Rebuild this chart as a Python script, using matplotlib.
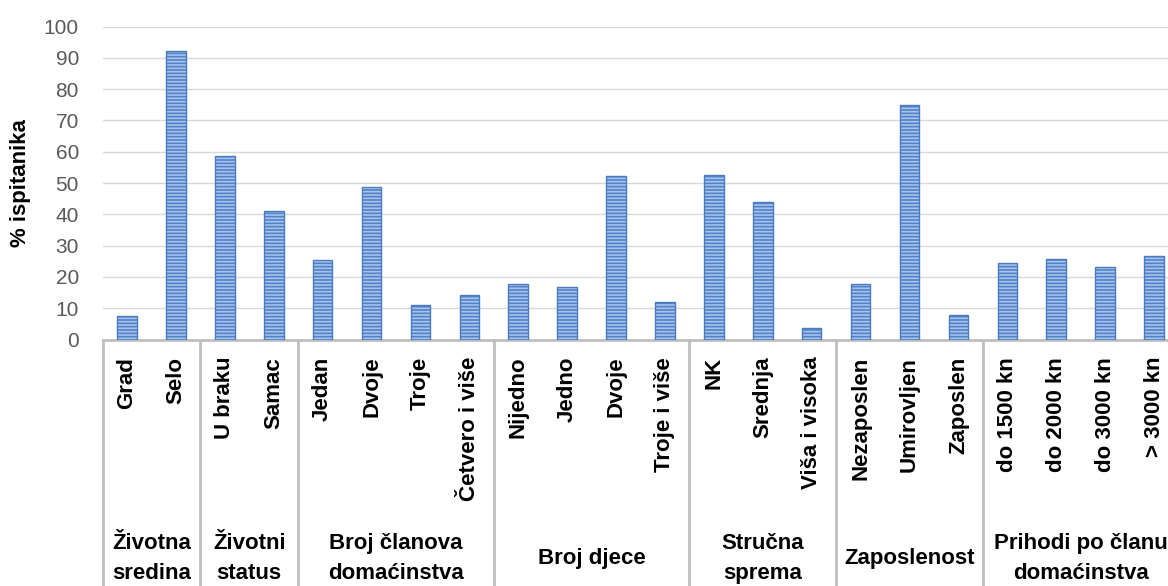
import numpy as np
import matplotlib.pyplot as plt

plt.rcParams['font.family'] = ['Liberation Sans', 'DejaVu Sans']

# categories and values (% of respondents)
labels = ['Grad', 'Selo', 'U braku', 'Samac', 'Jedan', 'Dvoje', 'Troje', 'Četvero i više',
          'Nijedno', 'Jedno', 'Dvoje', 'Troje i više', 'NK', 'Srednja', 'Viša i visoka',
          'Nezaposlen', 'Umirovljen', 'Zaposlen', 'do 1500 kn', 'do 2000 kn', 'do 3000 kn', '> 3000 kn']
values = [7.5, 92.2, 58.7, 41.1, 25.4, 48.7, 11.0, 14.3,
          17.8, 16.8, 52.3, 12.0, 52.5, 44.0, 3.7,
          17.9, 74.8, 7.8, 24.4, 25.7, 23.2, 26.7]
groups = ['Životna\nsredina', 'Životni\nstatus', 'Broj članova\ndomaćinstva', 'Broj djece',
          'Stručna\nsprema', 'Zaposlenost', 'Prihodi po članu\ndomaćinstva']
group_sizes = [2, 2, 4, 4, 3, 3, 4]

fig = plt.figure(figsize=(11.68, 5.86), dpi=100)
ax = fig.add_axes([0.0878, 0.4205, 1.009 - 0.0878, 0.9546 - 0.4205])

x = np.arange(len(labels))
plt.rcParams['hatch.linewidth'] = 1.2
ax.bar(x, values, width=0.4, color='#5182C9', edgecolor='#A9C4EC', hatch='-----', linewidth=0, zorder=3)
ax.bar(x, values, width=0.4, fill=False, edgecolor='#4A7BC0', linewidth=1.0, zorder=4)

ax.set_xlim(-0.5, len(labels) - 0.5)
ax.set_ylim(0, 100)
ax.set_yticks(range(0, 101, 10))
ax.yaxis.grid(True, color='#D9D9D9', linewidth=1.0, zorder=0)
ax.set_axisbelow(True)
ax.tick_params(axis='y', length=0, pad=17, labelsize=15, labelcolor='#595959')
ax.set_xticks([])
for s in ['left', 'right', 'top']:
    ax.spines[s].set_visible(False)
ax.spines['bottom'].set_color('#BFBFBF')
ax.spines['bottom'].set_linewidth(2)
ax.set_ylabel('% ispitanika', fontsize=16, fontweight='bold', labelpad=9)

trans = ax.get_xaxis_transform()
for i, lab in enumerate(labels):
    ax.text(i, -0.055, lab, rotation=90, ha='center', va='top', fontsize=16,
            fontweight='bold', transform=trans, clip_on=False)

start = 0
bounds = [-0.5]
for g, n in zip(groups, group_sizes):
    center = start + (n - 1) / 2
    ax.text(center, -0.70, g, ha='center', va='center', fontsize=16, fontweight='bold',
            transform=trans, linespacing=1.55, clip_on=False)
    start += n
    bounds.append(start - 0.5)

for b in bounds:
    ax.plot([b, b], [0, -0.85], color='#BFBFBF', linewidth=2, transform=trans, clip_on=False)

fig.savefig('out.png', dpi=100)
